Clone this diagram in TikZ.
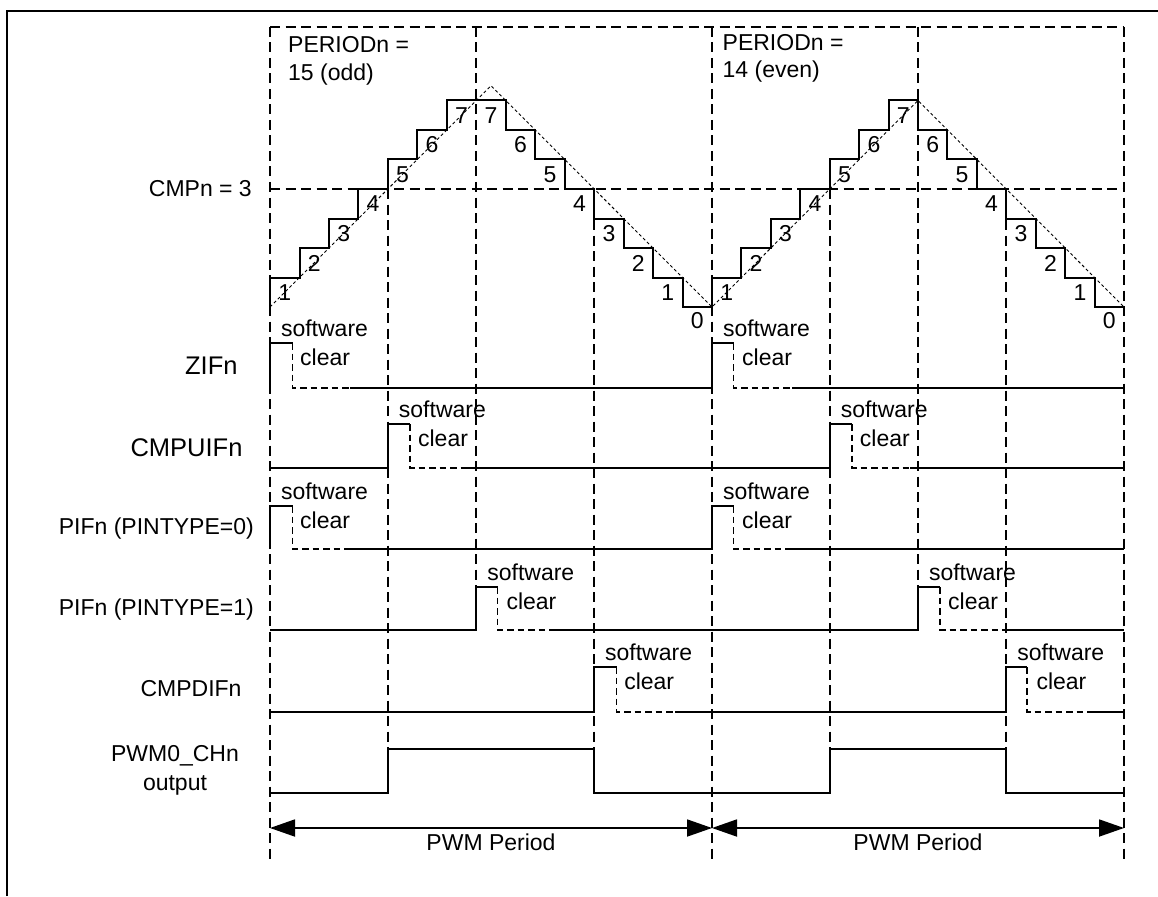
\documentclass[tikz,border=0pt]{standalone}
\usepackage{fontspec}
\setmainfont{Liberation Sans}
\usetikzlibrary{arrows.meta}
\newcommand\swclr[3]{%
  \node[txt, anchor=base] (#1s) at ({#2+54.5},{#3-6.5}) {software};
  \node[txt, anchor=base west] (#1c) at ({#2+30},{#3+22}) {clear};}
\begin{document}
\begin{tikzpicture}[x=1pt,y=-1pt,
  txt/.style={font=\fontsize{23}{27.6}\selectfont, inner sep=0pt},
  bigtxt/.style={font=\fontsize{25.5}{30}\selectfont, inner sep=0pt},
  gridline/.style={line width=1.8pt, dash pattern=on 10pt off 5.5pt},
  sigline/.style={line width=2pt},
  clrline/.style={line width=1.8pt, dash pattern=on 6.5pt off 4pt},
  rampline/.style={line width=0.9pt, dash pattern=on 3pt off 2.5pt},
  outerframe/.style={line width=2.5pt},
  periodarrow/.style={line width=1.8pt, {Triangle[length=25pt,width=17pt]}-{Triangle[length=25pt,width=17pt]}}
]
\useasboundingbox (0,0) rectangle (1158,896);

% outer frame
\draw[outerframe] (7,896) -- (7,11) -- (1158,11);

% grid
\draw[gridline] (270,27) -- (1124,27);
\draw[gridline] (270,189) -- (1124,189);
\foreach \x in {270,712,1124} \draw[gridline] (\x,27) -- (\x,860);
\foreach \x in {387.9,594.1,829.7,1006.3} \draw[gridline] (\x,189) -- (\x,749);
\foreach \x in {476.3,918} \draw[gridline] (\x,27) -- (\x,587);

% ramps
\draw[rampline] (270,307) -- (491,85.75) -- (712,307) -- (918,100.5) -- (1124,307);

% staircase
\draw[sigline] (270,307) -- (270,277.5) -- (299.5,277.5) -- (299.5,248) -- (328.9,248) -- (328.9,218.5) -- (358.4,218.5) -- (358.4,189) -- (387.9,189) -- (387.9,159.5) -- (417.3,159.5) -- (417.3,130) -- (446.8,130) -- (446.8,100.5) -- (505.7,100.5) -- (505.7,130) -- (535.2,130) -- (535.2,159.5) -- (564.7,159.5) -- (564.7,189) -- (594.1,189) -- (594.1,218.5) -- (623.6,218.5) -- (623.6,248) -- (653.1,248) -- (653.1,277.5) -- (682.5,277.5) -- (682.5,307) -- (712,307)
 -- (712,277.5) -- (741.4,277.5) -- (741.4,248) -- (770.9,248) -- (770.9,218.5) -- (800.3,218.5) -- (800.3,189) -- (829.7,189) -- (829.7,159.5) -- (859.1,159.5) -- (859.1,130) -- (888.6,130) -- (888.6,100.5) -- (918,100.5) -- (918,130) -- (947.4,130) -- (947.4,159.5) -- (976.9,159.5) -- (976.9,189) -- (1006.3,189) -- (1006.3,218.5) -- (1035.7,218.5) -- (1035.7,248) -- (1065.1,248) -- (1065.1,277.5) -- (1094.6,277.5) -- (1094.6,307) -- (1124,307);

% step numbers, period 1
\node[txt] (a1) at (284.7,292.5) {1};
\node[txt] (a2) at (314.2,263) {2};
\node[txt] (a3) at (343.7,233.5) {3};
\node[txt] (a4) at (373.1,204) {4};
\node[txt] (a5) at (402.6,174.5) {5};
\node[txt] (a6) at (432.1,145) {6};
\node[txt] (a7) at (461.5,115.5) {7};
\node[txt] (b7) at (491,115.5) {7};
\node[txt] (b6) at (520.5,145) {6};
\node[txt] (b5) at (549.9,174.5) {5};
\node[txt] (b4) at (579.4,204) {4};
\node[txt] (b3) at (608.9,233.5) {3};
\node[txt] (b2) at (638.3,263) {2};
\node[txt] (b1) at (667.8,292.5) {1};
\node[txt] (b0) at (697.3,321) {0};
% step numbers, period 2
\node[txt] (c1) at (726.7,292.5) {1};
\node[txt] (c2) at (756.1,263) {2};
\node[txt] (c3) at (785.6,233.5) {3};
\node[txt] (c4) at (815,204) {4};
\node[txt] (c5) at (844.4,174.5) {5};
\node[txt] (c6) at (873.9,145) {6};
\node[txt] (c7) at (903.3,115.5) {7};
\node[txt] (d6) at (932.7,145) {6};
\node[txt] (d5) at (962.1,174.5) {5};
\node[txt] (d4) at (991.6,204) {4};
\node[txt] (d3) at (1021,233.5) {3};
\node[txt] (d2) at (1050.4,263) {2};
\node[txt] (d1) at (1079.9,292.5) {1};
\node[txt] (d0) at (1109.3,321) {0};

% period texts
\node[txt, anchor=base west] (p1a) at (288,53) {PERIODn =};
\node[txt, anchor=base west] (p1b) at (288,80.5) {15 (odd)};
\node[txt, anchor=base west] (p2a) at (722.5,50.5) {PERIODn =};
\node[txt, anchor=base west] (p2b) at (722.5,78) {14 (even)};

% left labels
\node[txt, anchor=base east] (lcmp) at (252,196.7) {CMPn = 3};
\node[bigtxt, anchor=base east] (lzif) at (237.7,374.3) {ZIFn};
\node[bigtxt, anchor=base east] (lcmpu) at (242.7,456.7) {CMPUIFn};
\node[txt, anchor=base east] (lpif0) at (254,534) {PIFn (PINTYPE=0)};
\node[txt, anchor=base east] (lpif1) at (254,615) {PIFn (PINTYPE=1)};
\node[txt, anchor=base east] (lcmpd) at (241.7,696.7) {CMPDIFn};
\node[txt, anchor=base] (lpwm) at (175,761.7) {PWM0\_CHn};
\node[txt, anchor=base] (lout) at (175,790) {output};

% ZIFn
\draw[sigline] (270,388) -- (270,343) -- (292.5,343);
\draw[clrline] (292.5,343) -- (292.5,388) -- (350,388);
\draw[sigline] (350,388) -- (712,388) -- (712,343) -- (733.5,343);
\draw[clrline] (733.5,343) -- (733.5,388) -- (792,388);
\draw[sigline] (792,388) -- (1124,388);
\swclr{z1}{270}{343}
\swclr{z2}{712}{343}

% CMPUIFn
\draw[sigline] (270,468) -- (387.9,468) -- (387.9,424) -- (410,424);
\draw[clrline] (410,424) -- (410,468) -- (467,468);
\draw[sigline] (467,468) -- (829.7,468) -- (829.7,424) -- (852,424);
\draw[clrline] (852,424) -- (852,468) -- (910,468);
\draw[sigline] (910,468) -- (1124,468);
\swclr{u1}{387.9}{424}
\swclr{u2}{829.7}{424}

% PIFn (PINTYPE=0)
\draw[sigline] (270,549) -- (270,506) -- (292.5,506);
\draw[clrline] (292.5,506) -- (292.5,549) -- (350,549);
\draw[sigline] (350,549) -- (712,549) -- (712,506) -- (733.5,506);
\draw[clrline] (733.5,506) -- (733.5,549) -- (792,549);
\draw[sigline] (792,549) -- (1124,549);
\swclr{q1}{270}{506}
\swclr{q2}{712}{506}

% PIFn (PINTYPE=1)
\draw[sigline] (270,630) -- (476.3,630) -- (476.3,587) -- (497.5,587);
\draw[clrline] (497.5,587) -- (497.5,630) -- (553,630);
\draw[sigline] (553,630) -- (918,630) -- (918,587) -- (940,587);
\draw[clrline] (940,587) -- (940,630) -- (1003,630);
\draw[sigline] (1003,630) -- (1124,630);
\swclr{r1}{476.3}{587}
\swclr{r2}{918}{587}

% CMPDIFn
\draw[sigline] (270,712) -- (594.1,712) -- (594.1,667) -- (616.5,667);
\draw[clrline] (616.5,667) -- (616.5,712) -- (675,712);
\draw[sigline] (675,712) -- (1006.3,712) -- (1006.3,667) -- (1027,667);
\draw[clrline] (1027,667) -- (1027,712) -- (1087,712);
\draw[sigline] (1087,712) -- (1124,712);
\swclr{s1}{594.1}{667}
\swclr{s2}{1006.3}{667}

% PWM output
\draw[sigline] (270,793) -- (387.9,793) -- (387.9,749) -- (594.1,749) -- (594.1,793) -- (829.7,793) -- (829.7,749) -- (1006.3,749) -- (1006.3,793) -- (1124,793);

% period arrows
\coordinate (t0) at (270,828);
\coordinate (t1) at (712,828);
\coordinate (t2) at (1124,828);
\draw[periodarrow] (t0) -- (t1);
\draw[periodarrow] (t1) -- (t2);
\node[txt, anchor=base] (pp1) at (491,850) {PWM Period};
\node[txt, anchor=base] (pp2) at (918,850) {PWM Period};
\end{tikzpicture}
\end{document}
